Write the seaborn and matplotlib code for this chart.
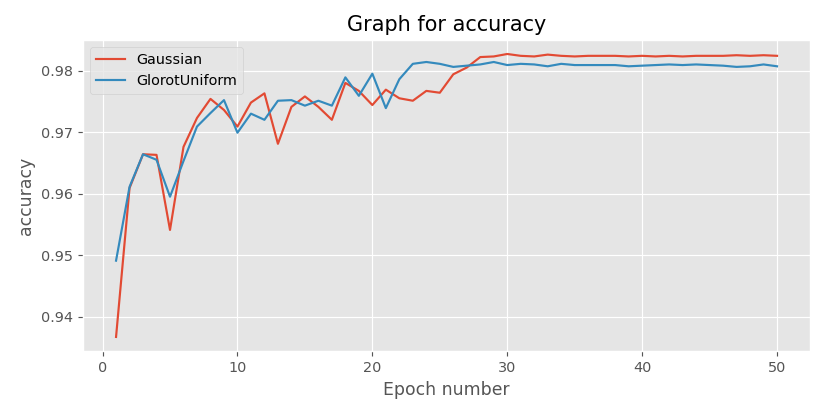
import numpy as np
import pandas as pd
import seaborn as sns
import matplotlib
matplotlib.use("Agg")
import matplotlib.pyplot as plt

epochs = list(range(1, 51))

gaussian = [0.9367, 0.9609, 0.9664, 0.9663, 0.9541, 0.9676, 0.9723, 0.9754, 0.9736, 0.9709,
            0.9748, 0.9763, 0.9681, 0.9741, 0.9758, 0.9741, 0.9720, 0.9780, 0.9767, 0.9744,
            0.9769, 0.9755, 0.9751, 0.9767, 0.9764, 0.9794, 0.9805, 0.9822, 0.9823, 0.9827,
            0.9824, 0.9823, 0.9826, 0.9824, 0.9823, 0.9824, 0.9824, 0.9824, 0.9823, 0.9824,
            0.9823, 0.9824, 0.9823, 0.9824, 0.9824, 0.9824, 0.9825, 0.9824, 0.9825, 0.9824]

glorot = [0.9491, 0.9611, 0.9664, 0.9655, 0.9595, 0.9653, 0.9709, 0.9731, 0.9752, 0.9699,
          0.9730, 0.9720, 0.9751, 0.9752, 0.9743, 0.9751, 0.9743, 0.9789, 0.9759, 0.9795,
          0.9739, 0.9786, 0.9811, 0.9814, 0.9811, 0.9806, 0.9808, 0.9810, 0.9814, 0.9809,
          0.9811, 0.9810, 0.9807, 0.9811, 0.9809, 0.9809, 0.9809, 0.9809, 0.9807, 0.9808,
          0.9809, 0.9810, 0.9809, 0.9810, 0.9809, 0.9808, 0.9806, 0.9807, 0.9810, 0.9807]

df = pd.DataFrame({"epoch": epochs * 2,
                   "accuracy": gaussian + glorot,
                   "init": ["Gaussian"] * 50 + ["GlorotUniform"] * 50})

plt.style.use("ggplot")
fig = plt.figure(figsize=(8, 4), dpi=103.75)
ax = fig.add_axes([0.100, 0.154, 0.876, 0.75])
sns.lineplot(data=df, x="epoch", y="accuracy", hue="init",
             palette=["#E24A33", "#348ABD"], linewidth=1.5, ax=ax)
ax.set_title("Graph for accuracy")
ax.set_xlabel("Epoch number")
ax.set_ylabel("accuracy")
ax.legend(loc="upper left")

fig.savefig("out.png", dpi=103.75)
